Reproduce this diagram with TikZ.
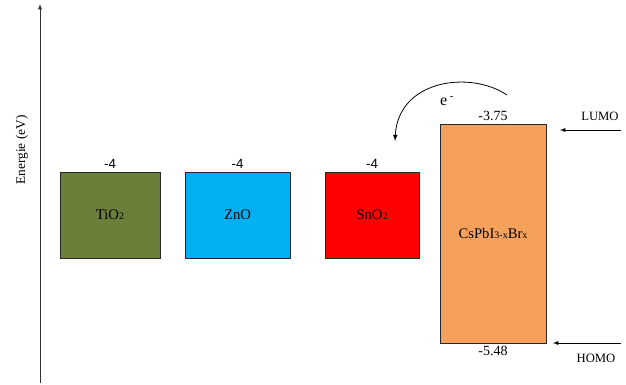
\documentclass[tikz,border=0pt]{standalone}
\usepackage{fontspec}
\setmainfont{Liberation Serif}
\newfontfamily\labsans{Liberation Sans}
\usepackage{xcolor}
\usepackage{tikz}
\usetikzlibrary{arrows}
\usetikzlibrary{positioning}
\definecolor{tiogreen}{HTML}{6B7F3A}
\definecolor{znoblue}{HTML}{00B0F0}
\definecolor{snored}{HTML}{FF0000}
\definecolor{cspborange}{HTML}{F6A15B}
\newcommand{\lowidx}[1]{{\fontsize{7.5}{8}\selectfont #1}}
\tikzset{
  band/.style={rectangle, draw=black!85, thin, font=\fontsize{11}{13}\selectfont},
  level/.style={rectangle, inner sep=1pt, font=\fontsize{10.5}{12}\selectfont},
}

\begin{document}
\begin{tikzpicture}[x=0.75pt, y=-0.75pt]
\useasboundingbox (0,0) rectangle (626,385);
% energy axis
\coordinate (axbot) at (40,383);
\coordinate (axtop) at (40,4);
\draw [-latex, draw=black!80] (axbot) to (axtop);
\node [rotate=90, font=\fontsize{10}{12}\selectfont] (E) at (22,150) {Energie (eV)};
% bands
\node [band, fill=tiogreen, minimum width=75pt, minimum height=64.5pt](TiO) at (110,215) {TiO\lowidx{2}};
\node [band, fill=znoblue, minimum width=78.75pt, minimum height=64.5pt](ZnO) at (237.5,215) {ZnO};
\node [band, fill=snored, minimum width=70.5pt, minimum height=64.5pt](SnO) at (372,215) {SnO\lowidx{2}};
\node [band, fill=cspborange, minimum width=79.5pt, minimum height=164.25pt](CsPb) at (493,233.5) {CsPbI\lowidx{3-x}Br\lowidx{x}};
% level values
\node [level, font=\labsans\fontsize{10}{12}\selectfont, above=1pt of TiO] (TiOv) {-4};
\node [level, font=\labsans\fontsize{10}{12}\selectfont, above=1pt of ZnO] (ZnOv) {-4};
\node [level, font=\labsans\fontsize{10}{12}\selectfont, above=1pt of SnO] (SnOv) {-4};
\node [level, above=1pt of CsPb] (CsPbup) {-3.75};
\node [level, below=1pt of CsPb] (CsPbdn) {-5.48};
% LUMO / HOMO
\node [level, font=\fontsize{9.5}{11}\selectfont] (LUMO) at (600,116) {LUMO};
\node [level, font=\fontsize{9.5}{11}\selectfont] (HOMO) at (596,358) {HOMO};
\coordinate (lumoA) at (621,130);
\coordinate (lumoB) at (560,130);
\coordinate (homoA) at (621,343);
\coordinate (homoB) at (553,343);
\draw [-latex, draw=black] (lumoA) to (lumoB);
\draw [-latex, draw=black] (homoA) to (homoB);
% electron transfer
\coordinate (eA) at (507,95);
\coordinate (eB) at (395,141);
\draw [-latex, draw=black, semithick] (eA) .. controls (470,70) and (398,80) .. (eB);
\node [level, font=\fontsize{12}{14}\selectfont] (el) at (447,101) {e\textsuperscript{ -}};
\end{tikzpicture}
\end{document}
